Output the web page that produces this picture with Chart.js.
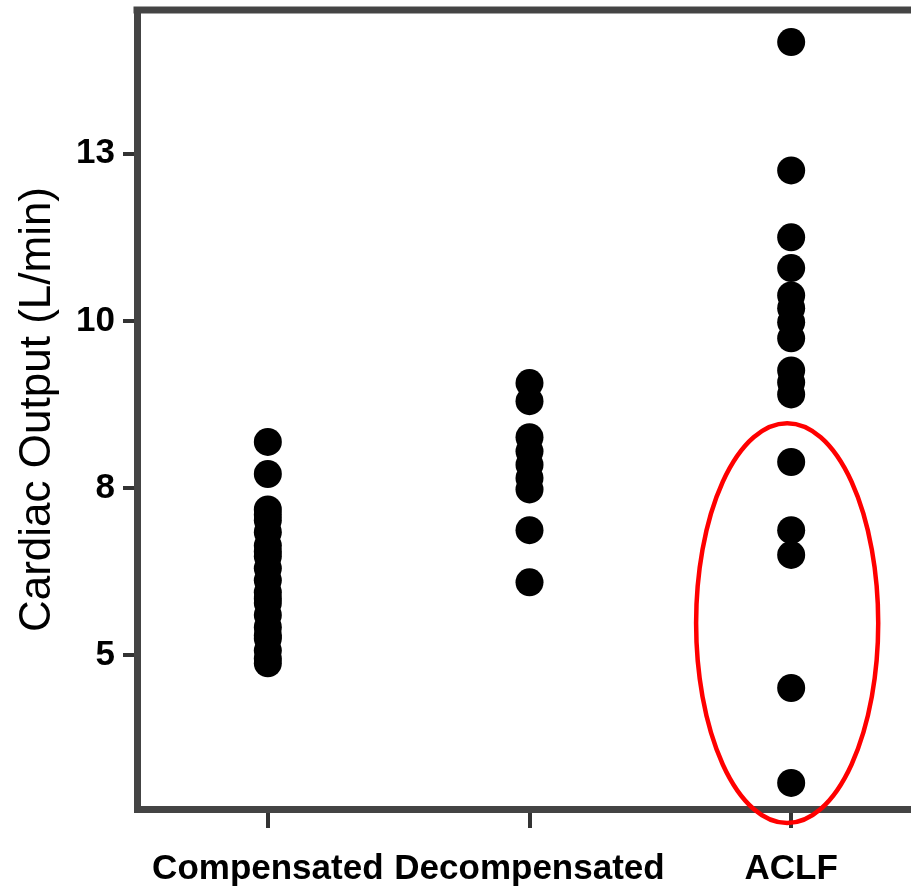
<!DOCTYPE html>
<html>
<head>
<meta charset="utf-8">
<script src="https://cdn.jsdelivr.net/npm/chart.js@4"></script>
<style>
  html, body { margin: 0; padding: 0; background: #fff; overflow: hidden; }
  #wrap { width: 922px; height: 887px; }
</style>
</head>
<body>
<div id="wrap"><canvas id="coChart" width="922" height="887"></canvas></div>
<script>
/* DATA */
const groups = ["Compensated", "Decompensated", "ACLF"];
const compensated = [8.19, 7.71, 7.18, 7.10, 7.02, 6.84, 6.64, 6.55, 6.48, 6.30, 6.12,
                     5.94, 5.85, 5.78, 5.60, 5.42, 5.30, 5.25, 5.07, 4.95, 4.88];
const decompensated = [9.07, 8.80, 8.26, 8.05, 7.85, 7.65, 7.48, 6.87, 6.09];
const aclf = [14.17, 12.25, 11.25, 10.79, 10.38, 10.19, 9.98, 9.74, 9.26, 9.08, 8.90,
              7.89, 6.87, 6.50, 4.51, 3.09];
const yTickValues = [5, 7.5, 10, 12.5];
const yTickLabels = ["5", "8", "10", "13"];
const yTitle = "Cardiac Output (L/min)";
const highlightGroup = "ACLF";
const highlightRange = [2.49, 8.47];

/* FONTS */
const probe = document.createElement("canvas").getContext("2d");
function fontExists(family) {
    probe.font = "bold 40px monospace";
    let w0 = probe.measureText("Compensated 13").width;
    probe.font = "bold 40px '" + family + "', monospace";
    return probe.measureText("Compensated 13").width !== w0;
}
const narrow = fontExists("Liberation Sans Narrow");
const labelFamily = narrow ? "'Liberation Sans Narrow', 'Liberation Sans', Arial, sans-serif"
                           : "'Liberation Sans', Arial, sans-serif";
const xLabelSize = narrow ? 42 : 35;
const yLabelSize = narrow ? 38 : 35;

/* POINTS */
function toPoints(name, values) {
    return values.map(v => ({ x: name, y: v }));
}
const seriesList = [compensated, decompensated, aclf];
const datasets = groups.map((g, i) => ({
    label: g,
    data: toPoints(g, seriesList[i]),
    backgroundColor: "#000",
    borderColor: "#000",
    borderWidth: 0,
    pointRadius: 14,
    pointHoverRadius: 14
}));

/* FRAME + ELLIPSE */
const extras = {
    id: "extras",
    afterDraw(chart) {
        let { ctx, chartArea, scales: { x, y } } = chart;
        ctx.save();
        ctx.strokeStyle = "#444";
        ctx.lineWidth = 7;
        ctx.beginPath();
        ctx.moveTo(chartArea.left - 3.5, chartArea.top);
        ctx.lineTo(chartArea.right + 10, chartArea.top);
        ctx.stroke();

        let idx = groups.indexOf(highlightGroup);
        let cx = x.getPixelForValue(idx);
        let step = x.getPixelForValue(1) - x.getPixelForValue(0);
        let yTop = y.getPixelForValue(highlightRange[1]);
        let yBot = y.getPixelForValue(highlightRange[0]);
        ctx.strokeStyle = "#ff0000";
        ctx.lineWidth = 4.5;
        ctx.beginPath();
        ctx.ellipse(cx - 4, (yTop + yBot) / 2, step * 0.348, (yBot - yTop) / 2, 0, 0, Math.PI * 2);
        ctx.stroke();
        ctx.restore();
    }
};

new Chart(document.getElementById("coChart"), {
    type: "scatter",
    data: { labels: groups, datasets: datasets },
    options: {
        responsive: false,
        animation: false,
        layout: { autoPadding: false, padding: { top: 10, right: 0, bottom: 0, left: 0 } },
        plugins: { legend: { display: false }, tooltip: { enabled: false } },
        scales: {
            x: {
                type: "category",
                labels: groups,
                offset: true,
                grid: { drawOnChartArea: false, drawTicks: true, tickLength: 19, lineWidth: 4, color: "#333", offset: false },
                border: { display: true, width: 7, color: "#444" },
                ticks: {
                    color: "#000", padding: 20, maxRotation: 0, minRotation: 0, autoSkip: false,
                    font: { family: labelFamily, size: xLabelSize, weight: "bold" }
                },
                afterFit(scale) {
                    scale.height = 78;
                    scale.paddingLeft = 0;
                    scale.paddingRight = 0;
                }
            },
            y: {
                min: 2.70,
                max: 14.65,
                grid: { drawOnChartArea: false, drawTicks: true, tickLength: 14, lineWidth: 4, color: "#333" },
                border: { display: true, width: 7, color: "#444" },
                afterBuildTicks(scale) { scale.ticks = yTickValues.map(v => ({ value: v })); },
                ticks: {
                    color: "#000",
                    padding: 8,
                    font: { family: labelFamily, size: yLabelSize, weight: "bold" },
                    callback: v => yTickLabels[yTickValues.indexOf(v)]
                },
                title: {
                    display: true,
                    text: yTitle,
                    color: "#000",
                    padding: { top: 11, bottom: 0 },
                    font: { family: "'Liberation Sans', Arial, sans-serif", size: 44, weight: "normal" }
                },
                afterFit(scale) {
                    scale.width = 137;
                    scale.paddingTop = 0;
                    scale.paddingBottom = 0;
                }
            }
        }
    },
    plugins: [extras]
});
</script>
</body>
</html>
